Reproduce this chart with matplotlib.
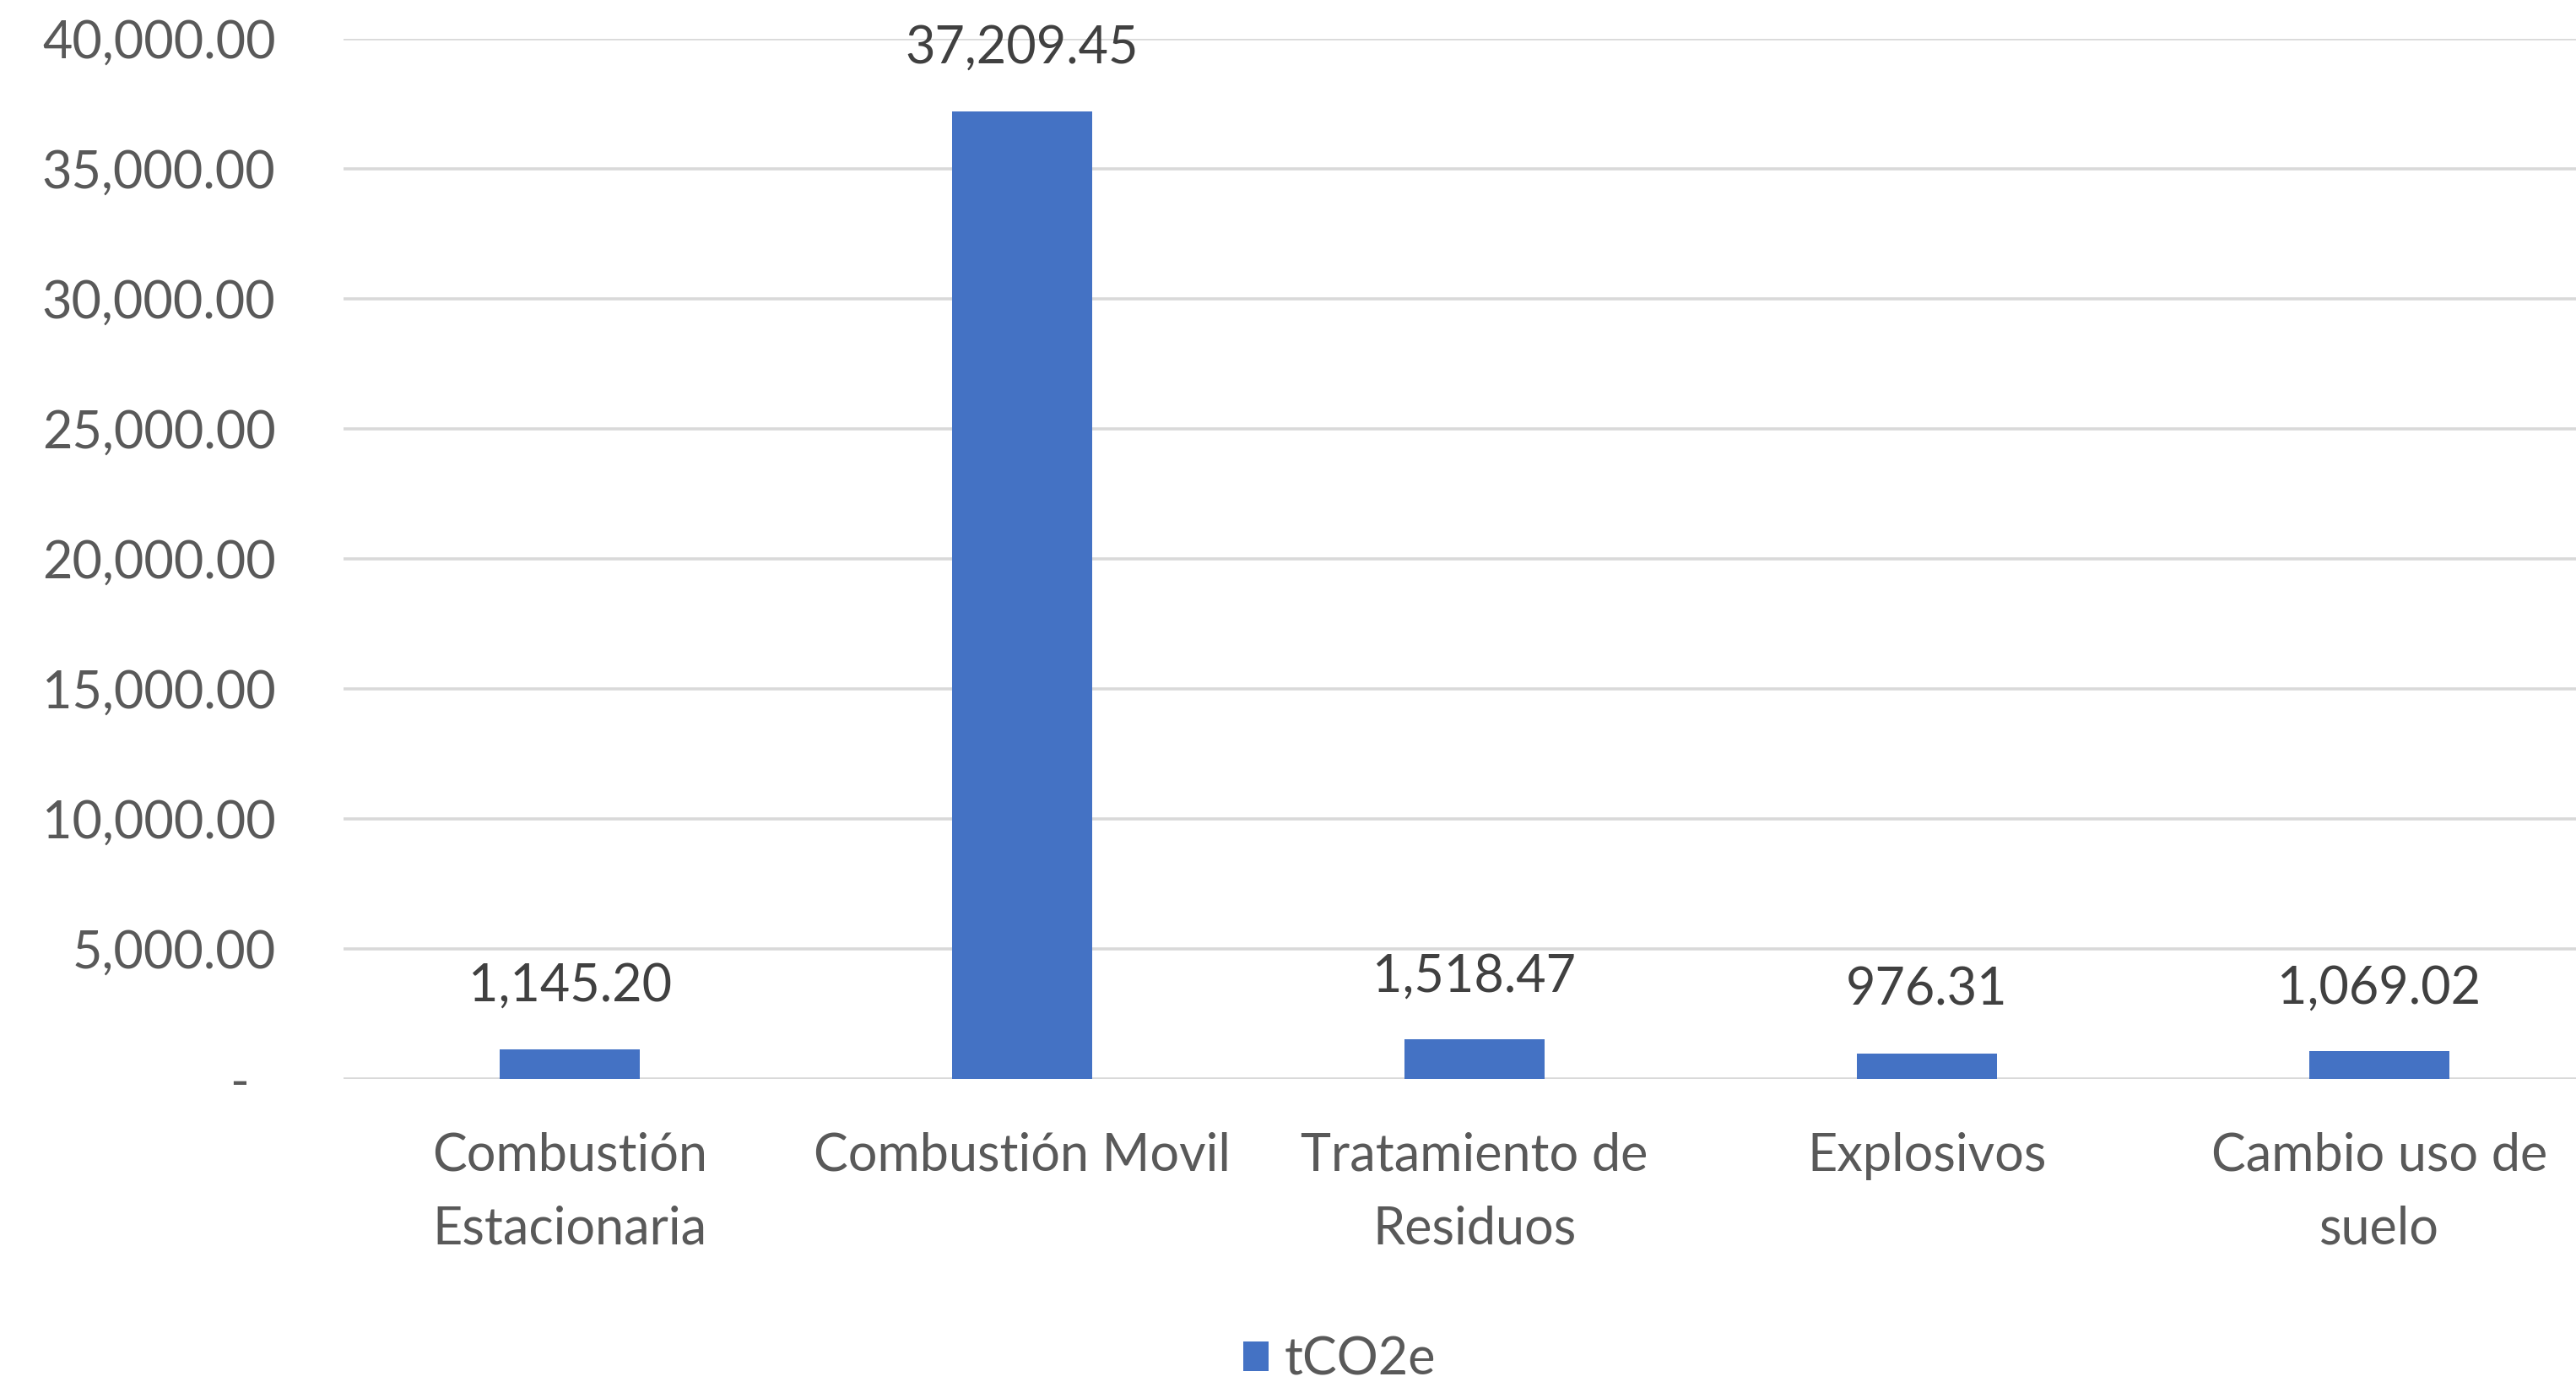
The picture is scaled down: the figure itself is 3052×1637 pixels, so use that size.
import matplotlib.pyplot as plt
from matplotlib.ticker import FuncFormatter

# Datos
categorias = ['Combustión\nEstacionaria', 'Combustión Movil', 'Tratamiento de\nResiduos',
              'Explosivos', 'Cambio uso de\nsuelo']
valores = [1145.20, 37209.45, 1518.47, 976.31, 1069.02]
serie = 'tCO2e'

plt.rcParams['font.family'] = ['Lato', 'DejaVu Sans']
fs = 44
gris = '#595959'

fig = plt.figure(figsize=(30.52, 16.37), dpi=100)
ax = fig.add_axes([0.1334, 0.2193, 0.878, 0.7526])

x = range(len(categorias))
barras = ax.bar(x, valores, width=0.31, color='#4472C4', label=serie, zorder=3)

# Etiquetas de datos
for b, v in zip(barras, valores):
    ax.annotate(f'{v:,.2f}', (b.get_x() + b.get_width() / 2, v),
                xytext=(0, 41), textcoords='offset points',
                ha='center', va='baseline', fontsize=fs, color='#404040')

ax.set_xlim(-0.5, len(categorias) - 0.5)
ax.set_ylim(0, 40000)
ax.set_yticks(range(0, 40001, 5000))
ax.yaxis.set_major_formatter(FuncFormatter(lambda v, p: '-  ' if v == 0 else f'{v:,.2f}'))
ax.set_xticks(list(x))
ax.set_xticklabels(categorias, linespacing=1.66)

ax.tick_params(axis='both', length=0, labelsize=fs, labelcolor=gris)
ax.tick_params(axis='y', pad=58)
ax.tick_params(axis='x', pad=45)

ax.grid(axis='y', color='#D9D9D9', linewidth=2.6, zorder=0)
for s in ax.spines.values():
    s.set_visible(False)

leg = fig.legend(loc='center', bbox_to_anchor=(0.52, 0.016), frameon=False,
                 fontsize=fs, handlelength=0.5, handleheight=0.5, handletextpad=0.3)
for t in leg.get_texts():
    t.set_color(gris)

fig.savefig('out.png', dpi=100)
